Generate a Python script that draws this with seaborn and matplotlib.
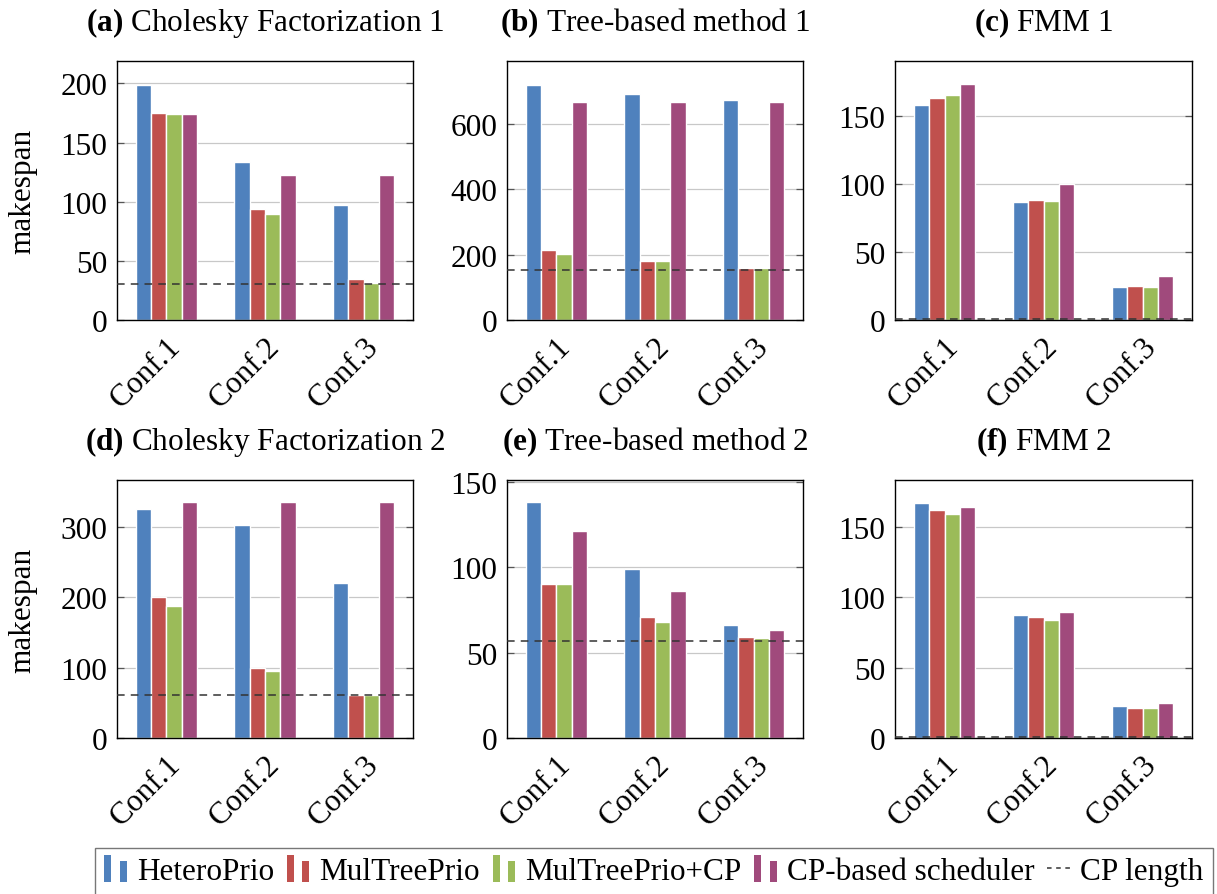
import numpy as np
import pandas as pd
import matplotlib
matplotlib.use("Agg")
import matplotlib.pyplot as plt
import seaborn as sns
from matplotlib.patches import Rectangle
from matplotlib.lines import Line2D
from matplotlib.legend_handler import HandlerBase
from matplotlib.ticker import MultipleLocator

# ================== DATA ==================

CONFS = ["Conf.1", "Conf.2", "Conf.3"]
SCHEDULERS = ["HeteroPrio", "MulTreePrio", "MulTreePrio+CP", "CP-based scheduler"]
COLORS = ["#4f81bd", "#c0504d", "#9bbb59", "#a04a7c"]

TITLES = [
    ("(a)", "Cholesky Factorization 1"),
    ("(b)", "Tree-based method 1"),
    ("(c)", "FMM 1"),
    ("(d)", "Cholesky Factorization 2"),
    ("(e)", "Tree-based method 2"),
    ("(f)", "FMM 2"),
]

# makespan per scheduler, one value per configuration
cholesky1 = {
    "HeteroPrio": [199, 134, 97],
    "MulTreePrio": [175, 94, 35],
    "MulTreePrio+CP": [174, 90, 31],
    "CP-based scheduler": [174, 123, 123],
}
tree1 = {
    "HeteroPrio": [719, 691, 672],
    "MulTreePrio": [215, 181, 159],
    "MulTreePrio+CP": [203, 180, 158],
    "CP-based scheduler": [667, 667, 667],
}
fmm1 = {
    "HeteroPrio": [158, 86.5, 24],
    "MulTreePrio": [163, 88, 25],
    "MulTreePrio+CP": [165, 87.5, 24],
    "CP-based scheduler": [173, 100, 32],
}
cholesky2 = {
    "HeteroPrio": [326, 303, 221],
    "MulTreePrio": [200, 100, 61],
    "MulTreePrio+CP": [188, 95, 61],
    "CP-based scheduler": [335, 335, 335],
}
tree2 = {
    "HeteroPrio": [138, 99, 66],
    "MulTreePrio": [90, 71, 59],
    "MulTreePrio+CP": [90, 68, 58.5],
    "CP-based scheduler": [121, 86, 63],
}
fmm2 = {
    "HeteroPrio": [167, 87.5, 22.5],
    "MulTreePrio": [162, 85.5, 21.5],
    "MulTreePrio+CP": [159, 83.5, 21],
    "CP-based scheduler": [164, 89.5, 25],
}

CP_LENGTH = [30.5, 154, 1, 60.5, 57, 0.8]
YMAX = [219, 792, 190, 367, 151, 183]
YSTEP = [50, 200, 50, 100, 50, 50]

PANELS = [cholesky1, tree1, fmm1, cholesky2, tree2, fmm2]

# ================== STYLE ==================

sns.set_theme(style="white")
plt.rcParams["font.family"] = ["Liberation Serif", "DejaVu Serif"]
plt.rcParams["mathtext.fontset"] = "custom"
plt.rcParams["mathtext.rm"] = "Liberation Serif"
plt.rcParams["mathtext.bf"] = "Liberation Serif:bold"
plt.rcParams["text.color"] = "black"
plt.rcParams["axes.labelcolor"] = "black"
plt.rcParams["xtick.color"] = "black"
plt.rcParams["ytick.color"] = "black"

FS = 22.5
W, H = 1217, 895

# axes boxes in pixels: left, right, top, bottom
LEFTS = [117, 507, 895]
RIGHTS = [413, 803, 1192]
TOPS = [62, 481]
BOTTOMS = [321, 739]


class BarPairHandler(HandlerBase):
    def create_artists(self, legend, orig_handle, xdescent, ydescent,
                       width, height, fontsize, trans):
        c = orig_handle.get_facecolor()
        w = width * 0.28
        r1 = Rectangle((-xdescent, -ydescent - 2), w, height * 1.25,
                       facecolor=c, edgecolor="none", transform=trans)
        r2 = Rectangle((-xdescent + width * 0.62, -ydescent - 2), w, height * 0.95,
                       facecolor=c, edgecolor="none", transform=trans)
        return [r1, r2]


fig = plt.figure(figsize=(W / 100, H / 100), dpi=100)

for i, panel in enumerate(PANELS):
    row, col = divmod(i, 3)
    l, r = LEFTS[col], RIGHTS[col]
    t, b = TOPS[row], BOTTOMS[row]
    ax = fig.add_axes([l / W, 1 - b / H, (r - l) / W, (b - t) / H])

    df = pd.DataFrame(
        [(c, s, panel[s][k]) for s in SCHEDULERS for k, c in enumerate(CONFS)],
        columns=["conf", "scheduler", "makespan"],
    )
    sns.barplot(
        data=df, x="conf", y="makespan", hue="scheduler",
        order=CONFS, hue_order=SCHEDULERS, palette=COLORS, saturation=1,
        width=0.62, errorbar=None, edgecolor="white", linewidth=1,
        legend=False, ax=ax, zorder=2,
    )
    ax.axhline(CP_LENGTH[i], color="#333333", lw=1.1, ls=(0, (5, 4)), zorder=3)

    ax.set_xlim(-0.5, 2.5)
    ax.set_ylim(0, YMAX[i])
    ax.yaxis.set_major_locator(MultipleLocator(YSTEP[i]))
    ax.grid(axis="y", color="#c8c8c8", lw=0.9, zorder=0)
    ax.set_axisbelow(True)

    for sp in ax.spines.values():
        sp.set_color("black")
        sp.set_linewidth(1.0)

    ax.tick_params(axis="y", direction="in", left=True, right=True,
                   length=5, width=0.9, color="#555555", labelsize=FS, pad=7)
    ax.tick_params(axis="x", length=0, labelsize=FS, pad=8)
    for lab in ax.get_xticklabels():
        lab.set_rotation(45)
        lab.set_ha("right")
        lab.set_va("top")
        lab.set_rotation_mode("anchor")

    ax.set_xlabel("")
    if col == 0:
        ax.set_ylabel("makespan", fontsize=FS)
        ax.yaxis.set_label_coords(-0.27, 0.5)
    else:
        ax.set_ylabel("")

    tag, name = TITLES[i]
    ax.set_title(r"$\mathbf{" + tag + "}$ " + name, fontsize=FS, pad=22)

# ================== LEGEND ==================

handles = [Rectangle((0, 0), 1, 1, facecolor=c) for c in COLORS]
handles.append(Line2D([0], [0], color="#333333", lw=1.1, ls=(0, (3, 3))))
labels = SCHEDULERS + ["CP length"]

leg = fig.legend(
    handles, labels, loc="upper left", bbox_to_anchor=(95 / W, 1 - 849 / H),
    ncol=5, fontsize=FS, frameon=True, fancybox=False, borderaxespad=0,
    handlelength=0.8, handletextpad=0.25, columnspacing=0.4, borderpad=0.3,
    handler_map={Rectangle: BarPairHandler()},
)
leg.get_frame().set_edgecolor("#555555")
leg.get_frame().set_linewidth(1.0)

fig.savefig("out.png", dpi=100)
